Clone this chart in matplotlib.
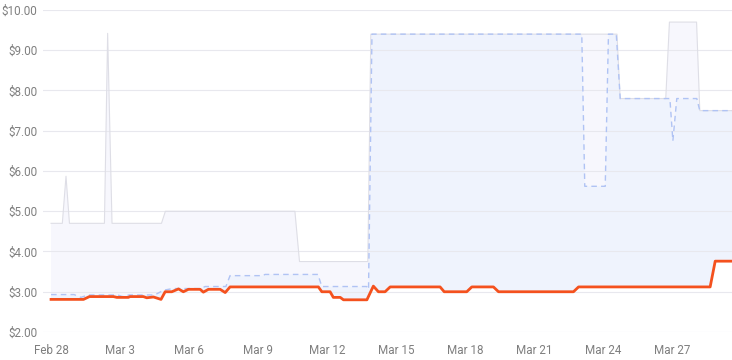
import numpy as np
import matplotlib; matplotlib.use("Agg"); import matplotlib.pyplot as plt

# days since Feb 28
tick_days = [0, 3, 6, 9, 12, 15, 18, 21, 24, 27]
tick_labels = ["Feb 28", "Mar 3", "Mar 6", "Mar 9", "Mar 12", "Mar 15",
               "Mar 18", "Mar 21", "Mar 24", "Mar 27"]
price_ticks = [2, 3, 4, 5, 6, 7, 8, 9, 10]

# highest price
max_t = [0, 0.49, 0.65, 0.8, 2.32, 2.46, 2.65, 4.8, 4.97, 10.6, 10.8, 13.77,
         13.9, 24.6, 24.74, 26.72, 26.88, 28.06, 28.2, 29.6]
max_v = [4.70, 4.70, 5.87, 4.70, 4.70, 9.42, 4.70, 4.70, 5.00, 5.00, 3.75, 3.75,
         9.40, 9.40, 7.80, 7.80, 9.70, 9.70, 7.50, 7.50]

# average price (dashed)
avg_t = [0, 1.0, 1.3, 1.6, 2.9, 3.1, 3.4, 4.5, 4.9, 5.3, 6.5, 6.7, 7.6, 7.78,
         9.2, 9.3, 11.6, 11.77, 13.72, 13.8, 13.95, 23.07, 23.2, 24.09, 24.23,
         24.57, 24.74, 26.9, 27.03, 27.2, 28.07, 28.2, 29.6]
avg_v = [2.93, 2.93, 2.86, 2.92, 2.92, 2.88, 2.92, 2.92, 3.04, 3.08, 3.08, 3.13,
         3.13, 3.40, 3.40, 3.43, 3.43, 3.13, 3.13, 3.06, 9.40, 9.40, 5.62, 5.62,
         9.40, 9.40, 7.80, 7.80, 6.75, 7.80, 7.80, 7.50, 7.50]

# lowest price (red)
min_t = [0, 1.41, 1.67, 2.71, 2.86, 3.36, 3.43, 4.01, 4.16, 4.45, 4.78, 4.96,
         5.25, 5.54, 5.75, 5.97, 6.48, 6.62, 6.84, 7.35, 7.57, 7.78, 11.62,
         11.77, 12.13, 12.27, 12.57, 12.71, 13.73, 14.01, 14.23, 14.52, 14.74,
         16.91, 17.09, 18.07, 18.29, 19.23, 19.45, 22.71, 22.93, 28.65, 28.87, 29.6]
min_v = [2.81, 2.81, 2.88, 2.88, 2.86, 2.86, 2.88, 2.88, 2.85, 2.87, 2.81, 3.00,
         3.00, 3.07, 3.00, 3.06, 3.06, 2.99, 3.06, 3.06, 2.98, 3.12, 3.12,
         3.00, 3.00, 2.86, 2.86, 2.80, 2.80, 3.14, 3.00, 3.00, 3.12,
         3.12, 3.00, 3.00, 3.12, 3.12, 3.00, 3.00, 3.12, 3.12, 3.76, 3.76]

fig = plt.figure(figsize=(7.32, 3.6), dpi=100)
ax = fig.add_axes([43 / 732, 28 / 360, 1 - 43 / 732, 322 / 360])
plt.rcParams["font.family"] = ["Roboto", "DejaVu Sans"]

# bands: min..max (very light), min..avg (a bit bluer)
ax.fill(np.r_[max_t, min_t[::-1]], np.r_[max_v, min_v[::-1]],
        color="#f7f7fd", lw=0, zorder=1)
ax.fill(np.r_[avg_t, min_t[::-1]], np.r_[avg_v, min_v[::-1]],
        color="#eff3fd", lw=0, zorder=1.1)
ax.plot(max_t, max_v, color="#dedee6", lw=0.8, zorder=2)
ax.plot(avg_t, avg_v, color="#b0c3f4", lw=1.0, dashes=(4, 3), zorder=2.5)
ax.plot(min_t, min_v, color="#f4511e", lw=2.0, zorder=3, solid_joinstyle="round")

ax.set_xlim(-0.35, 29.6)
ax.set_ylim(2, 10)
ax.set_yticks(price_ticks)
ax.set_yticklabels([f"${p:.2f}" for p in price_ticks])
ax.set_xticks(tick_days)
ax.set_xticklabels(tick_labels)
ax.grid(axis="y", color="#e8e8ee", lw=0.8, zorder=1.5)
ax.set_axisbelow("line")
for s in ax.spines.values():
    s.set_visible(False)
ax.tick_params(length=0, labelsize=8.4, labelcolor="#7f7f7f")
ax.tick_params(axis="y", pad=4)
ax.tick_params(axis="x", pad=9)
for lab in ax.get_xticklabels() + ax.get_yticklabels():
    lab.set_family(["Roboto", "DejaVu Sans"])
ax.patch.set_alpha(0)

fig.savefig("out.png", dpi=100)
